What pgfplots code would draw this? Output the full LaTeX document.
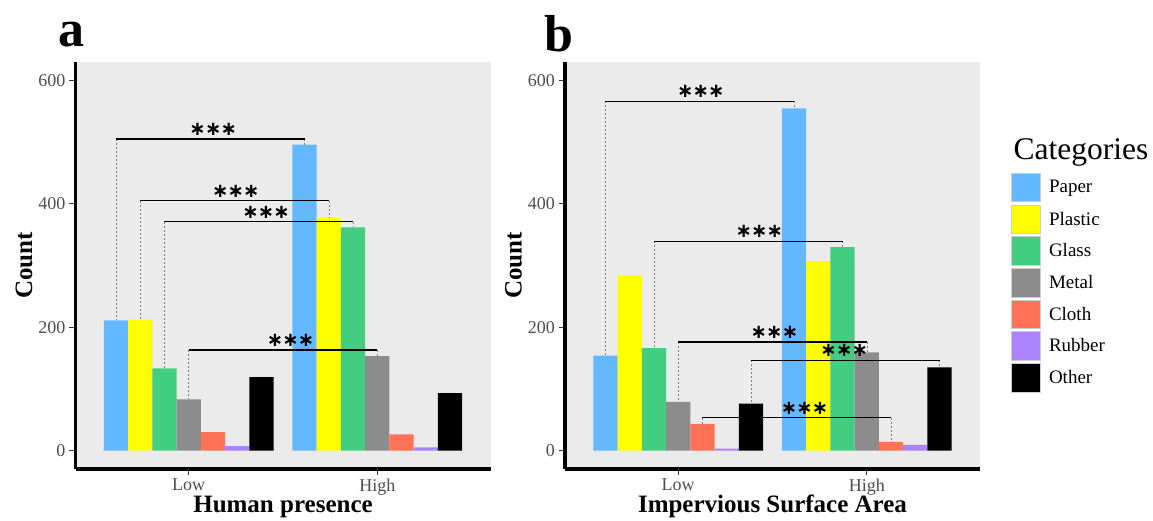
\documentclass[border=0pt]{standalone}
\usepackage{pgfplots}
\pgfplotsset{compat=1.18}
\usepackage{fontspec}
\setmainfont{Liberation Serif}
\newfontfamily\starfont{DejaVu Sans}
\definecolor{cPaper}{HTML}{63B8FF}
\definecolor{cPlastic}{HTML}{FFFF00}
\definecolor{cGlass}{HTML}{43CD80}
\definecolor{cMetal}{HTML}{8C8C8C}
\definecolor{cCloth}{HTML}{FF7256}
\definecolor{cRubber}{HTML}{AB82FF}
\definecolor{cOther}{HTML}{000000}
\definecolor{panelbg}{HTML}{EBEBEB}
\definecolor{ticklab}{HTML}{4D4D4D}
\definecolor{tickcol}{HTML}{333333}
\pgfplotsset{
  myPanel/.style={
    scale only axis, width=415pt, height=407pt, anchor=south west,
    xmin=0.4, xmax=2.6, ymin=-30, ymax=630,
    axis background/.style={fill=panelbg},
    axis x line*=bottom, axis y line*=left,
    axis line style={line width=3.6pt, black},
    xtick={1,2}, xticklabels={Low,High}, ytick={0,200,400,600},
    /pgf/number format/assume math mode=true,
    tick align=outside, major tick length=6pt,
    tick style={color=tickcol, line width=0.8pt},
    ticklabel style={font=\rmfamily\fontsize{18}{18}\selectfont, text=ticklab},
    yticklabel style={inner sep=4pt},
    label style={font=\rmfamily\fontsize{25}{25}\selectfont\bfseries},
    xlabel style={at={(axis description cs:0.5,-0.1081)}, anchor=base},
    ylabel style={at={(axis description cs:-0.1048,0.5)}, anchor=base},
    clip=false,
  },
  myBar/.style={ybar, bar width=0.128571, fill=#1, draw=none,
    legend image code/.code={\draw[##1,/tikz/.cd,draw=white!80!black,line width=0.5pt] (0pt,-14.25pt) rectangle (28.5pt,14.25pt);}},
  myBracket/.style={black, line width=1.3pt, sharp plot, forget plot, mark=none},
  myGuide/.style={gray, line width=0.6pt, dash pattern=on 2pt off 2pt, sharp plot, forget plot, mark=none},
}
\tikzset{myStars/.style={anchor=base, yshift=3.5pt, inner sep=0pt, font=\starfont\bfseries\fontsize{19.5}{19.5}\selectfont}}
\newcommand{\sig}{∗\kern-0.8pt∗\kern-0.8pt∗}
\begin{document}
\begin{tikzpicture}
\useasboundingbox (0,0) rectangle (1153pt,520pt);
% ---------------- panel a
\begin{axis}[myPanel, at={(75.5pt,51pt)}, xlabel={Human presence}, ylabel={Count}]
\addplot[myBar=cPaper,   bar shift=-0.385714] coordinates {(1,211) (2,496)};
\addplot[myBar=cPlastic, bar shift=-0.257143] coordinates {(1,212) (2,377)};
\addplot[myBar=cGlass,   bar shift=-0.128571] coordinates {(1,133) (2,362)};
\addplot[myBar=cMetal,   bar shift=0.0]       coordinates {(1,83)  (2,153)};
\addplot[myBar=cCloth,   bar shift=0.128571]  coordinates {(1,30)  (2,26)};
\addplot[myBar=cRubber,  bar shift=0.257143]  coordinates {(1,7)   (2,5)};
\addplot[myBar=cOther,   bar shift=0.385714]  coordinates {(1,119) (2,93)};
% Paper
\addplot[myGuide] coordinates {(0.614286,505) (0.614286,211)};
\addplot[myGuide] coordinates {(1.614286,505) (1.614286,496)};
\addplot[myBracket] coordinates {(0.614286,505) (1.614286,505)};
\node[myStars] at (axis cs:1.13,505) {\sig};
% Plastic
\addplot[myGuide] coordinates {(0.742857,405) (0.742857,212)};
\addplot[myGuide] coordinates {(1.742857,405) (1.742857,377)};
\addplot[myBracket] coordinates {(0.742857,405) (1.742857,405)};
\node[myStars] at (axis cs:1.25,405) {\sig};
% Glass
\addplot[myGuide] coordinates {(0.871429,371) (0.871429,133)};
\addplot[myGuide] coordinates {(1.871429,371) (1.871429,362)};
\addplot[myBracket] coordinates {(0.871429,371) (1.871429,371)};
\node[myStars] at (axis cs:1.41,371) {\sig};
% Metal
\addplot[myGuide] coordinates {(1,163) (1,83)};
\addplot[myGuide] coordinates {(2,163) (2,153)};
\addplot[myBracket] coordinates {(1,163) (2,163)};
\node[myStars] at (axis cs:1.54,163) {\sig};
\end{axis}
\node[anchor=base west, font=\rmfamily\fontsize{52}{52}\selectfont\bfseries] at (55pt,473pt) {a};
% ---------------- panel b
\begin{axis}[myPanel, at={(565pt,51pt)}, xlabel={Impervious Surface Area}, ylabel={Count},
  legend style={at={(1.0747,0.7273)}, anchor=north west, draw=none, fill=none,
    inner sep=0pt, outer sep=0pt, row sep=2.7pt, font=\rmfamily\fontsize{19}{19}\selectfont,
    nodes={inner sep=0pt, outer sep=0pt},
    /tikz/every odd column/.append style={column sep=9pt}},
  legend cell align=left]
\addplot[myBar=cPaper,   bar shift=-0.385714] coordinates {(1,154) (2,555)};
\addlegendentry{Paper}
\addplot[myBar=cPlastic, bar shift=-0.257143] coordinates {(1,284) (2,307)};
\addlegendentry{Plastic}
\addplot[myBar=cGlass,   bar shift=-0.128571] coordinates {(1,166) (2,330)};
\addlegendentry{Glass}
\addplot[myBar=cMetal,   bar shift=0.0]       coordinates {(1,79)  (2,159)};
\addlegendentry{Metal}
\addplot[myBar=cCloth,   bar shift=0.128571]  coordinates {(1,43)  (2,14)};
\addlegendentry{Cloth}
\addplot[myBar=cRubber,  bar shift=0.257143]  coordinates {(1,3)   (2,9)};
\addlegendentry{Rubber}
\addplot[myBar=cOther,   bar shift=0.385714]  coordinates {(1,76)  (2,135)};
\addlegendentry{Other}
% Paper
\addplot[myGuide] coordinates {(0.614286,566) (0.614286,154)};
\addplot[myGuide] coordinates {(1.614286,566) (1.614286,555)};
\addplot[myBracket] coordinates {(0.614286,566) (1.614286,566)};
\node[myStars] at (axis cs:1.12,566) {\sig};
% Glass
\addplot[myGuide] coordinates {(0.871429,339) (0.871429,166)};
\addplot[myGuide] coordinates {(1.871429,339) (1.871429,330)};
\addplot[myBracket] coordinates {(0.871429,339) (1.871429,339)};
\node[myStars] at (axis cs:1.43,339) {\sig};
% Metal
\addplot[myGuide] coordinates {(1,176) (1,79)};
\addplot[myGuide] coordinates {(2,176) (2,159)};
\addplot[myBracket] coordinates {(1,176) (2,176)};
\node[myStars] at (axis cs:1.51,176) {\sig};
% Other
\addplot[myGuide] coordinates {(1.385714,146) (1.385714,76)};
\addplot[myGuide] coordinates {(2.385714,146) (2.385714,135)};
\addplot[myBracket] coordinates {(1.385714,146) (2.385714,146)};
\node[myStars] at (axis cs:1.88,146) {\sig};
% Cloth
\addplot[myGuide] coordinates {(1.128571,53) (1.128571,43)};
\addplot[myGuide] coordinates {(2.128571,53) (2.128571,14)};
\addplot[myBracket] coordinates {(1.128571,53) (2.128571,53)};
\node[myStars] at (axis cs:1.67,53) {\sig};
\end{axis}
\node[anchor=base west, font=\rmfamily\fontsize{52}{52}\selectfont\bfseries] at (541pt,468pt) {b};
\node[anchor=base west, font=\rmfamily\fontsize{31.5}{31.5}\selectfont] at (1010pt,360pt) {Categories};
\end{tikzpicture}
\end{document}
